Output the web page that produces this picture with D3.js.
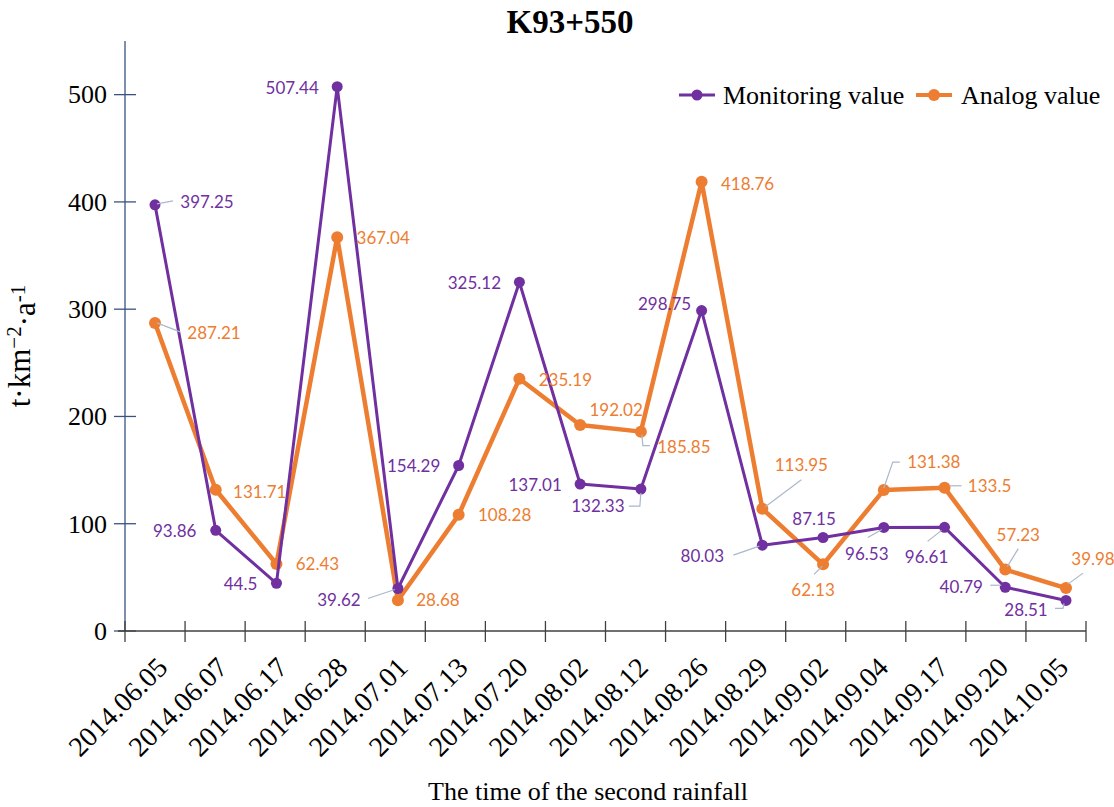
<!DOCTYPE html>
<html>
<head>
<meta charset="utf-8">
<script src="https://cdn.jsdelivr.net/npm/d3@7"></script>
<style>
  body { margin: 0; background: #fff; }
  svg { display: block; }
</style>
</head>
<body>
<div id="chart"></div>
<script>
//Chart data
var dates = ["2014.06.05", "2014.06.07", "2014.06.17", "2014.06.28", "2014.07.01", "2014.07.13",
  "2014.07.20", "2014.08.02", "2014.08.12", "2014.08.26", "2014.08.29", "2014.09.02",
  "2014.09.04", "2014.09.17", "2014.09.20", "2014.10.05"];
var monitoring = [397.25, 93.86, 44.5, 507.44, 39.62, 154.29, 325.12, 137.01, 132.33, 298.75,
  80.03, 87.15, 96.53, 96.61, 40.79, 28.51];
var analog = [287.21, 131.71, 62.43, 367.04, 28.68, 108.28, 235.19, 192.02, 185.85, 418.76,
  113.95, 62.13, 131.38, 133.5, 57.23, 39.98];
var yTicks = [0, 100, 200, 300, 400, 500];
var seriesNames = ["Monitoring value", "Analog value"];

//Label placement (text centre offset from point, optional leader line)
var monLabels = [
  {dx: 52, dy: -3, lead: [[2, -1], [18, -4]]},
  {dx: -41, dy: 1}, {dx: -36, dy: 1}, {dx: -45, dy: 1},
  {dx: -59, dy: 11, lead: [[-30, 10], [-3, 1]]},
  {dx: -45, dy: 0}, {dx: -45, dy: 1}, {dx: -45, dy: 1},
  {dx: -43, dy: 17, lead: [[-12, 17], [-1, 17], [0, 4]]},
  {dx: -37, dy: -7},
  {dx: -60, dy: 11, lead: [[-29, 10], [-3, 1]]},
  {dx: -9, dy: -19},
  {dx: -17, dy: 26, lead: [[-16, 10], [-2, 2]]},
  {dx: -18, dy: 30, lead: [[-17, 14], [-3, 3]]},
  {dx: -44, dy: 0, lead: [[-15, -2], [-4, -2]]},
  {dx: -40, dy: 9, lead: [[-11, 8], [-3, 8], [-2, 3]]}
];
var anaLabels = [
  {dx: 59, dy: 10, lead: [[2, 0], [25, 9]]},
  {dx: 44, dy: 2}, {dx: 41, dy: 0}, {dx: 46, dy: 1}, {dx: 40, dy: 0},
  {dx: 46, dy: 0}, {dx: 46, dy: 1}, {dx: 36, dy: -15},
  {dx: 43, dy: 15, lead: [[1, 3], [2, 14], [9, 14]]},
  {dx: 46, dy: 2},
  {dx: 39, dy: -44, lead: [[3, -2], [39, -29]]},
  {dx: -10, dy: 26, lead: [[-9, 10], [-1, 2]]},
  {dx: 50, dy: -28, lead: [[0, -2], [9, -28], [16, -28]]},
  {dx: 45, dy: -2, lead: [[5, -2], [17, -2]]},
  {dx: 13, dy: -35, lead: [[2, -3], [13, -21]]},
  {dx: 27, dy: -29, lead: [[2, -4], [17, -15]]}
];

var width = 1114, height = 807;
var purple = "#7030a0", orange = "#ed7d31", leadColor = "#a9b8cb";
var serif = "'Liberation Serif', 'Times New Roman', serif";
var sans = "Lato, 'Open Sans', sans-serif";

var svg = d3.select("#chart").append("svg")
  .attr("width", width)
  .attr("height", height);

//Scales
var xBand = d3.scaleBand().domain(dates).range([125, 1086]);
var x = d3.scalePoint().domain(dates).range([155, 1066]);
var y = d3.scaleLinear().domain([0, 550]).range([631, 41]);

//Title
svg.append("text")
  .attr("x", 570).attr("y", 33)
  .attr("text-anchor", "middle")
  .style("font-family", serif).style("font-size", "33px").style("font-weight", "bold")
  .text("K93+550");

//Y axis
var yAxis = svg.append("g").attr("transform", "translate(125,0)");
yAxis.append("line")
  .attr("y1", y(550)).attr("y2", y(0))
  .attr("stroke", "#3a5282").attr("stroke-width", 1.3);
yAxis.selectAll(".ytick").data(yTicks).enter().append("line")
  .attr("x1", -11).attr("x2", 11)
  .attr("y1", function (d) { return y(d); })
  .attr("y2", function (d) { return y(d); })
  .attr("stroke", "#3a5282").attr("stroke-width", 1.3);
yAxis.selectAll(".ylab").data(yTicks).enter().append("text")
  .attr("x", -18)
  .attr("y", function (d) { return y(d); })
  .attr("dy", "0.34em")
  .attr("text-anchor", "end")
  .style("font-family", serif).style("font-size", "26px")
  .text(function (d) { return d; });

//X axis
var xAxis = svg.append("g");
xAxis.append("line")
  .attr("x1", 118).attr("x2", 1086)
  .attr("y1", y(0)).attr("y2", y(0))
  .attr("stroke", "#404040").attr("stroke-width", 1.3);
var tickPos = dates.map(function (d) { return xBand(d); }).concat([1086]);
xAxis.selectAll(".xtick").data(tickPos).enter().append("line")
  .attr("x1", function (d) { return d; }).attr("x2", function (d) { return d; })
  .attr("y1", y(0) - 10).attr("y2", y(0) + 11)
  .attr("stroke", "#404040").attr("stroke-width", 1.3);
xAxis.selectAll(".xlab").data(dates).enter().append("text")
  .attr("transform", function (d) {
    return "translate(" + (xBand(d) + xBand.bandwidth() / 2 + 14) + "," + 669 + ") rotate(-45)";
  })
  .attr("text-anchor", "end")
  .style("font-family", serif).style("font-size", "28px")
  .text(function (d) { return d; });

//Axis titles
svg.append("text")
  .attr("x", 588).attr("y", 800)
  .attr("text-anchor", "middle")
  .style("font-family", serif).style("font-size", "26px")
  .text("The time of the second rainfall");

var yTitle = svg.append("text")
  .attr("transform", "translate(30,346) rotate(-90)")
  .attr("text-anchor", "middle")
  .style("font-family", serif).style("font-size", "31px");
yTitle.append("tspan").text("t·km");
yTitle.append("tspan").attr("dy", "-0.45em").style("font-size", "21px").text("−2");
yTitle.append("tspan").attr("dy", "0.45em").text("·a");
yTitle.append("tspan").attr("dy", "-0.45em").style("font-size", "21px").text("-1");

//Series
var series = [
  {name: seriesNames[0], values: monitoring, color: purple, width: 3, r: 5.5, labels: monLabels},
  {name: seriesNames[1], values: analog, color: orange, width: 4.5, r: 6, labels: anaLabels}
];

var line = d3.line()
  .x(function (d, i) { return x(dates[i]); })
  .y(function (d) { return y(d); });

//Draw the analog series first, then monitoring on top
[series[1], series[0]].forEach(function (s) {
  svg.append("path")
    .attr("d", line(s.values))
    .attr("fill", "none")
    .attr("stroke", s.color)
    .attr("stroke-width", s.width)
    .attr("stroke-linejoin", "round");
  svg.selectAll(null).data(s.values).enter().append("circle")
    .attr("cx", function (d, i) { return x(dates[i]); })
    .attr("cy", function (d) { return y(d); })
    .attr("r", s.r)
    .attr("fill", s.color);
});

//Data labels and leader lines
series.forEach(function (s) {
  s.values.forEach(function (v, i) {
    var px = x(dates[i]), py = y(v), lab = s.labels[i];
    if (lab.lead) {
      svg.append("polyline")
        .attr("points", lab.lead.map(function (p) { return (px + p[0]) + "," + (py + p[1]); }).join(" "))
        .attr("fill", "none")
        .attr("stroke", leadColor)
        .attr("stroke-width", 1.2);
    }
    svg.append("text")
      .attr("x", px + lab.dx)
      .attr("y", py + lab.dy)
      .attr("dy", "0.36em")
      .attr("text-anchor", "middle")
      .style("font-family", sans).style("font-size", "17px")
      .attr("fill", s.color)
      .text(v);
  });
});

//Legend
var legend = svg.append("g");
var legendItems = [
  {x: 679, tx: 723, color: purple, w: 3, r: 5.5, name: seriesNames[0]},
  {x: 916, tx: 961, color: orange, w: 4, r: 6, name: seriesNames[1]}
];
legendItems.forEach(function (d) {
  legend.append("line")
    .attr("x1", d.x).attr("x2", d.x + 36)
    .attr("y1", 95).attr("y2", 95)
    .attr("stroke", d.color).attr("stroke-width", d.w);
  legend.append("circle")
    .attr("cx", d.x + 18).attr("cy", 95).attr("r", d.r)
    .attr("fill", d.color);
  legend.append("text")
    .attr("x", d.tx).attr("y", 95).attr("dy", "0.33em")
    .style("font-family", serif).style("font-size", "26px")
    .text(d.name);
});
</script>
</body>
</html>
